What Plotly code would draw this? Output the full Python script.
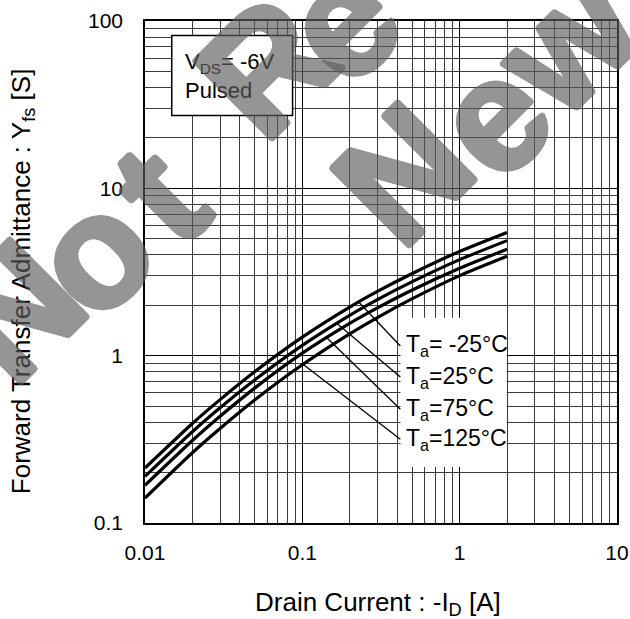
import numpy as np
import plotly.graph_objects as go

# ---- data ----
drain_current = [0.01, 0.02, 0.03, 0.05, 0.1, 0.2, 0.3, 0.5, 1, 2]
yfs_m25 = [0.213, 0.393, 0.546, 0.804, 1.29, 1.95, 2.42, 3.10, 4.20, 5.45]
yfs_25 = [0.190, 0.351, 0.488, 0.718, 1.152, 1.741, 2.161, 2.768, 3.75, 4.87]
yfs_75 = [0.168, 0.311, 0.434, 0.642, 1.035, 1.56, 1.93, 2.47, 3.33, 4.33]
yfs_125 = [0.141, 0.263, 0.367, 0.545, 0.882, 1.35, 1.69, 2.19, 3.01, 3.93]
series_labels = ["T<sub>a</sub>= -25°C", "T<sub>a</sub>=25°C", "T<sub>a</sub>=75°C", "T<sub>a</sub>=125°C"]
leader_x = [0.228, 0.166, 0.143, 0.101]          # where each leader touches its curve
label_logy = [0.058, -0.128, -0.320, -0.500]      # label centres (log10 of Yfs)
label_logx = -0.357
x_ticks = [0.01, 0.1, 1, 10]
x_ticktext = ["0.01", "0.1", "1", "10"]
y_ticks = [0.1, 1, 10, 100]
y_ticktext = ["0.1", "1", "10", "100"]

FONT = "Arial, Liberation Sans, sans-serif"
W, H = 630, 619
L, R, T, B = 145, 13, 21, 96.3

fig = go.Figure()
all_series = [yfs_m25, yfs_25, yfs_75, yfs_125]
for ys, name in zip(all_series, series_labels):
    fig.add_trace(go.Scatter(x=drain_current, y=ys, mode="lines", name=name,
                             line=dict(color="black", width=3.2, shape="spline", smoothing=0.6),
                             showlegend=False, hoverinfo="skip"))

minor_x = [m * 10.0 ** e for e in range(-2, 1) for m in range(2, 10)]
minor_y = [m * 10.0 ** e for e in range(-1, 2) for m in range(2, 10)]

axis_common = dict(type="log", showline=True, mirror=True, linecolor="black", linewidth=1.5,
                   ticks="", gridcolor="black", gridwidth=1.2, zeroline=False,
                   tickfont=dict(family=FONT, size=21, color="black"))
fig.update_xaxes(range=[-2, 1], tickvals=x_ticks, ticktext=x_ticktext, ticklabelstandoff=10,
                 minor=dict(tickvals=minor_x, showgrid=True, gridcolor="#3a3a3a", gridwidth=1, ticks=""),
                 **axis_common)
fig.update_yaxes(range=[-1, 2], tickvals=y_ticks, ticktext=y_ticktext, ticklabelstandoff=16,
                 minor=dict(tickvals=minor_y, showgrid=True, gridcolor="#3a3a3a", gridwidth=1, ticks=""),
                 **axis_common)

def d(v):
    """log10 position -> data value (shapes on log axes take data values)"""
    return 10.0 ** v

shapes = []
# condition box
shapes.append(dict(type="rect", xref="x", yref="y", x0=d(-1.830), x1=d(-1.062), y0=d(1.435), y1=d(1.914),
                   fillcolor="white", line=dict(color="black", width=1.5), layer="above"))
# white background behind the temperature labels
shapes.append(dict(type="rect", xref="x", yref="y", x0=d(-0.376), x1=d(0.299), y0=d(-0.666), y1=d(0.226),
                   fillcolor="white", line=dict(width=0), layer="above"))
# leader lines
lx = np.log10(drain_current)
for ys, xs, ly in zip(all_series, leader_x, label_logy):
    y_on = np.interp(np.log10(xs), lx, np.log10(ys))
    shapes.append(dict(type="line", xref="x", yref="y", x0=xs, y0=d(y_on),
                       x1=d(label_logx - 0.02), y1=d(ly), line=dict(color="black", width=1.3), layer="above"))

annotations = []
for name, ly in zip(series_labels, label_logy):
    annotations.append(dict(xref="x", yref="y", x=label_logx, y=ly, text=name, showarrow=False,
                            xanchor="left", yanchor="middle",
                            font=dict(family=FONT, size=23, color="black")))
annotations.append(dict(xref="x", yref="y", x=-1.758, y=1.669, text="V<sub>DS</sub>= -6V<br>Pulsed",
                        showarrow=False, xanchor="left", yanchor="middle", align="left",
                        font=dict(family=FONT, size=22, color="black")))
# axis titles
def px2paper(px, py):
    return (px - L) / (W - L - R), (H - B - py) / (H - T - B)

tx, ty = px2paper(378, 603)
annotations.append(dict(xref="paper", yref="paper", x=tx, y=ty, text="Drain Current : -I<sub>D</sub> [A]",
                        showarrow=False, xanchor="center", yanchor="middle",
                        font=dict(family=FONT, size=26, color="black")))
tx, ty = px2paper(22, 281)
annotations.append(dict(xref="paper", yref="paper", x=tx, y=ty,
                        text="Forward Transfer Admittance : Y<sub>fs</sub> [S]", textangle=-90,
                        showarrow=False, xanchor="center", yanchor="middle",
                        font=dict(family=FONT, size=26, color="black")))

# watermark letters (glyph centres in page pixels), thickened with a text shadow
WM_COL = "#5d5d5d"
offs = [(2.5, 0), (-2.5, 0), (0, 2.5), (0, -2.5), (1.8, 1.8), (-1.8, 1.8), (1.8, -1.8), (-1.8, -1.8)]
wm_shadow = ", ".join(f"{a}px {b}px 0 {WM_COL}" for a, b in offs)
wm = [("N", 15, 310), ("o", 92, 253), ("t", 158, 194), ("R", 266, 66), ("e", 340, 22),
      ("N", 403, 173), ("e", 491, 117), ("w", 566, 40)]
for ch, px, py in wm:
    ax_, ay_ = px2paper(px, py)
    annotations.append(dict(xref="paper", yref="paper", x=ax_, y=ay_, text="<b>" + ch + "</b>",
                            textangle=-45, showarrow=False, xanchor="center", yanchor="middle",
                            opacity=0.65,
                            font=dict(family=FONT, size=160, color=WM_COL, shadow=wm_shadow)))

fig.update_layout(width=W, height=H, margin=dict(l=L, r=R, t=T, b=B, autoexpand=False),
                  plot_bgcolor="white", paper_bgcolor="white", shapes=shapes,
                  annotations=annotations, showlegend=False)
fig.write_html("out.html", config={"displayModeBar": False},
               post_script="document.body.style.margin='0';")
